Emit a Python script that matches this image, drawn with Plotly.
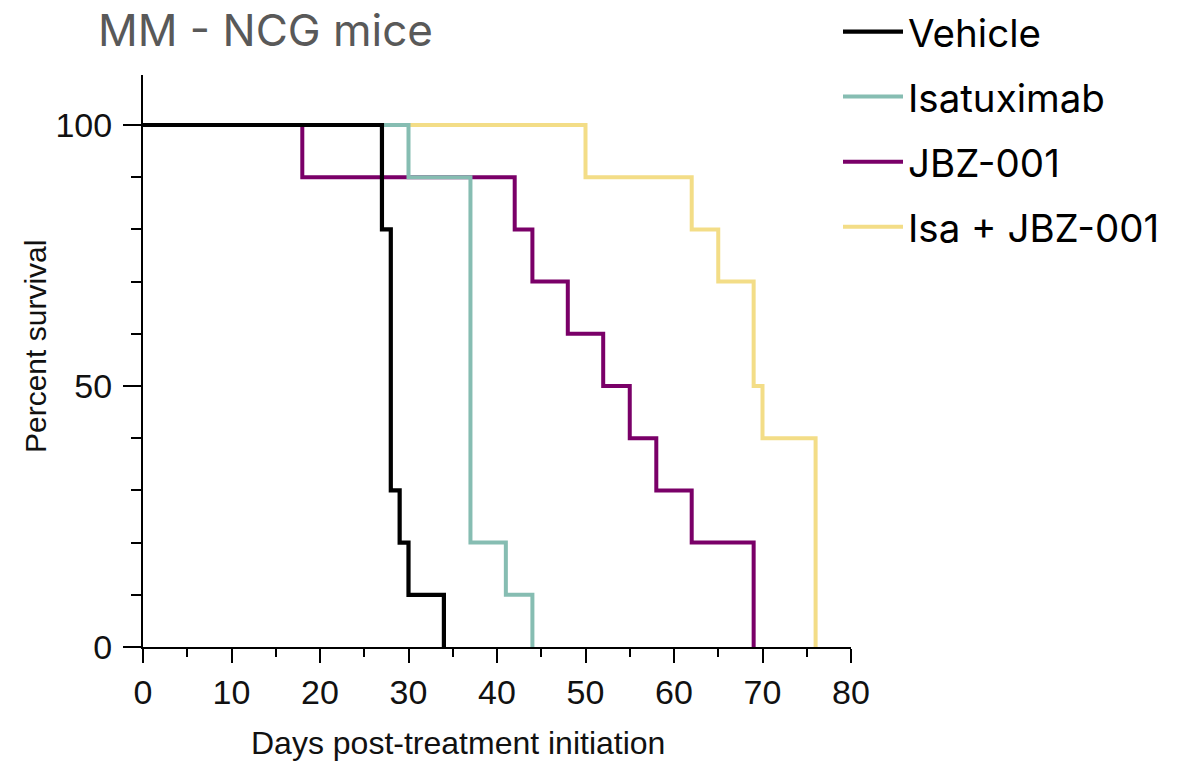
import plotly.graph_objects as go

# ---- data ----
vehicle_days = [0, 27, 28, 29, 30, 34]
vehicle_surv = [100, 80, 30, 20, 10, 0]

isa_days = [0, 30, 37, 41, 44]
isa_surv = [100, 90, 20, 10, 0]

jbz_days = [0, 18, 42, 44, 48, 52, 55, 58, 62, 69]
jbz_surv = [100, 90, 80, 70, 60, 50, 40, 30, 20, 0]

combo_days = [0, 50, 62, 65, 69, 70, 76]
combo_surv = [100, 90, 80, 70, 50, 40, 0]

series_names = ["Vehicle", "Isatuximab", "JBZ-001", "Isa + JBZ-001"]
series_colors = ["#000000", "#86BDB2", "#7A0068", "#F3DD87"]

x_major = [0, 10, 20, 30, 40, 50, 60, 70, 80]
y_major = [0, 50, 100]

W, H = 1201, 761
x0_px, x1_px = 143, 851
y0_px, y1_px = 647, 75  # bottom / top in px

fig = go.Figure()

series = [
    (vehicle_days, vehicle_surv),
    (isa_days, isa_surv),
    (jbz_days, jbz_surv),
    (combo_days, combo_surv),
]
# draw bottom-to-top: combo, jbz, isa, vehicle
for idx in [3, 2, 1, 0]:
    d, s = series[idx]
    fig.add_trace(go.Scatter(
        x=d, y=s, mode="lines", name=series_names[idx],
        line=dict(color=series_colors[idx], width=4.2 if idx == 0 else 4, shape="hv"),
        legendgroup=series_names[idx],
        legendrank=idx + 1,
    ))

tick_font = dict(family="Liberation Sans, Arial, sans-serif", size=34, color="#111111")

fig.update_layout(
    width=W, height=H,
    autosize=False,
    margin=dict(l=0, r=0, t=0, b=0, pad=0),
    paper_bgcolor="white", plot_bgcolor="white",
    showlegend=True,
    legend=dict(
        x=838 / W, xanchor="left", y=1.0, yanchor="top",
        font=dict(family="Inter, Noto Sans, sans-serif", size=38.5, color="#000000"),
        tracegroupgap=12, itemwidth=60,
        bgcolor="rgba(0,0,0,0)", borderwidth=0,
    ),
    title=dict(
        text="MM - NCG mice",
        x=98 / W, xanchor="left", xref="paper",
        y=1 - 15 / H, yanchor="top", yref="paper",
        font=dict(family="Inter, Noto Sans, sans-serif", size=44, color="#595959"),
        pad=dict(t=0, b=0, l=0, r=0),
    ),
    xaxis=dict(
        domain=[x0_px / W, x1_px / W],
        range=[0, 80],
        automargin=False,
        showgrid=False, zeroline=False,
        showline=True, linecolor="black", linewidth=2,
        tickmode="array", tickvals=x_major, ticktext=[str(v) for v in x_major],
        ticks="outside", ticklen=14, tickwidth=2, tickcolor="black",
        minor=dict(dtick=5, tick0=0, ticks="outside", ticklen=8, tickwidth=2, tickcolor="black", showgrid=False),
        tickfont=tick_font,
        fixedrange=True,
    ),
    yaxis=dict(
        domain=[(H - y0_px) / H, (H - y1_px) / H],
        range=[0, (y0_px - y1_px) / 5.22],
        automargin=False,
        showgrid=False, zeroline=False,
        showline=True, linecolor="black", linewidth=2,
        tickmode="array", tickvals=y_major, ticktext=[str(v) for v in y_major],
        ticks="outside", ticklen=18, tickwidth=2, tickcolor="black",
        minor=dict(dtick=10, tick0=0, ticks="outside", ticklen=10, tickwidth=2, tickcolor="black", showgrid=False),
        tickfont=tick_font,
        ticklabelstandoff=4,
        fixedrange=True,
    ),
    annotations=[
        dict(text="Days post-treatment initiation", xref="paper", yref="paper",
             x=458 / W, y=1 - 743 / H, xanchor="center", yanchor="middle",
             showarrow=False,
             font=dict(family="Liberation Sans, Arial, sans-serif", size=32, color="#111111")),
        dict(text="Percent survival", xref="paper", yref="paper",
             x=35 / W, y=1 - 347 / H, xanchor="center", yanchor="middle",
             textangle=-90, showarrow=False,
             font=dict(family="Liberation Sans, Arial, sans-serif", size=30, color="#111111")),
    ],
)

fig.write_html(
    "out.html",
    post_script="document.body.style.margin='0';document.body.style.padding='0';"
                "document.documentElement.style.overflow='hidden';",
)
